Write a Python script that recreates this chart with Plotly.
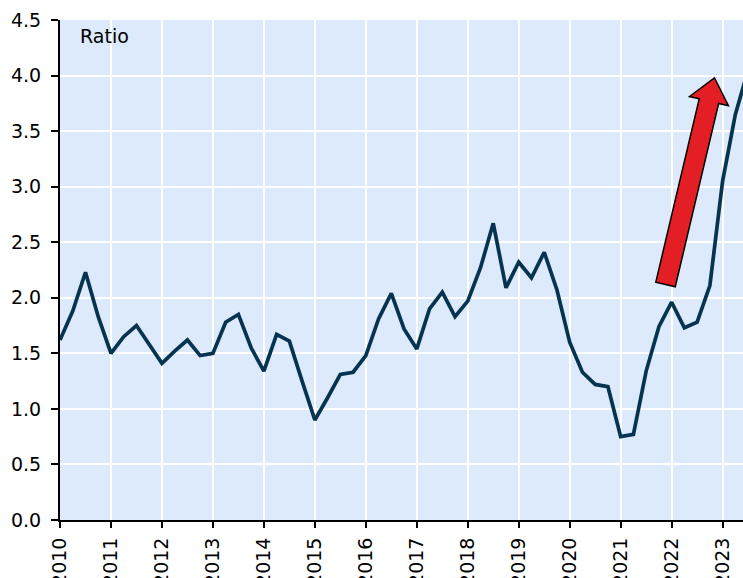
import plotly.graph_objects as go
import numpy as np

# ---- data (quarterly, starting 2010 Q1) ----
start_year = 2010
ratio = [1.62, 1.88, 2.23, 1.83, 1.50, 1.65, 1.75, 1.58,
         1.41, 1.52, 1.62, 1.48, 1.50, 1.78, 1.85, 1.55,
         1.34, 1.67, 1.61, 1.25, 0.90, 1.10, 1.31, 1.33,
         1.48, 1.81, 2.04, 1.72, 1.54, 1.90, 2.05, 1.83,
         1.97, 2.27, 2.67, 2.09, 2.32, 2.18, 2.41, 2.07,
         1.60, 1.33, 1.22, 1.20, 0.75, 0.77, 1.34, 1.74,
         1.96, 1.73, 1.78, 2.11, 3.05, 3.65, 4.05]
tick_years = list(range(2010, 2024))
tick_labels = [str(y) for y in tick_years]
y_ticks = [0.0, 0.5, 1.0, 1.5, 2.0, 2.5, 3.0, 3.5, 4.0, 4.5]
y_tick_labels = [f"{v:.1f}" for v in y_ticks]

# arrow annotation (data coords): tail and tip
arrow_tail = (2021.88, 2.12)
arrow_tip = (2022.84, 3.98)

x = [start_year + 0.25 * i for i in range(len(ratio))]

W, H = 743, 578
ML, MR, MT, MB = 60, 0, 20, 58
xr = [2010, 2023.40]
yr = [0, 4.5]
pw, ph = W - ML - MR, H - MT - MB

def to_px(xd, yd):
    return ((xd - xr[0]) / (xr[1] - xr[0]) * pw, (yd - yr[0]) / (yr[1] - yr[0]) * ph)

def to_data(px, py):
    return (xr[0] + px / pw * (xr[1] - xr[0]), yr[0] + py / ph * (yr[1] - yr[0]))

# block-arrow polygon computed in pixel space
T = np.array(to_px(*arrow_tail))
P = np.array(to_px(*arrow_tip))
d = P - T
L = np.linalg.norm(d)
u = d / L
n = np.array([-u[1], u[0]])
sw, hw, hl = 10.0, 20.0, 24.0
B = P - u * hl
pts = [T + n * sw, B + n * sw, B + n * hw, P, B - n * hw, B - n * sw, T - n * sw]
path = ""
for i, p in enumerate(pts):
    xd, yd = to_data(*p)
    path += ("M" if i == 0 else "L") + f"{xd},{yd} "
path += "Z"

FONT = "DejaVu Sans, Liberation Sans, Arial, sans-serif"

fig = go.Figure()
fig.add_trace(go.Scatter(x=x, y=ratio, mode="lines",
                         line=dict(color="#063450", width=3.7),
                         showlegend=False, hoverinfo="skip"))

fig.add_shape(type="path", path=path, xref="x", yref="y",
              fillcolor="#E41E25", line=dict(color="black", width=1.5), layer="above")

fig.add_annotation(x=0.026, y=0.995, xref="paper", yref="paper", text="Ratio",
                   showarrow=False, xanchor="left", yanchor="top",
                   font=dict(size=19, color="black", family=FONT))

fig.update_layout(
    width=W, height=H,
    margin=dict(l=ML, r=MR, t=MT, b=MB),
    paper_bgcolor="white", plot_bgcolor="#DDEAFB",
    font=dict(family=FONT, size=19, color="black"),
)
fig.update_xaxes(range=xr, tickvals=tick_years, ticktext=tick_labels, tickangle=-90,
                 showgrid=True, gridcolor="white", gridwidth=2,
                 showline=True, linecolor="black", linewidth=2,
                 ticks="outside", ticklen=6, tickcolor="black", tickwidth=1.5,
                 zeroline=False, ticklabelstandoff=2, automargin=False)
fig.update_yaxes(range=yr, tickvals=y_ticks, ticktext=y_tick_labels,
                 showgrid=True, gridcolor="white", gridwidth=2,
                 showline=True, linecolor="black", linewidth=2,
                 ticks="outside", ticklen=7, tickcolor="black", tickwidth=1.5,
                 zeroline=False, ticklabelstandoff=6, automargin=False)

fig.write_html("out.html", config={"displayModeBar": False},
               post_script="document.body.style.margin='0';document.body.style.overflow='hidden';")
